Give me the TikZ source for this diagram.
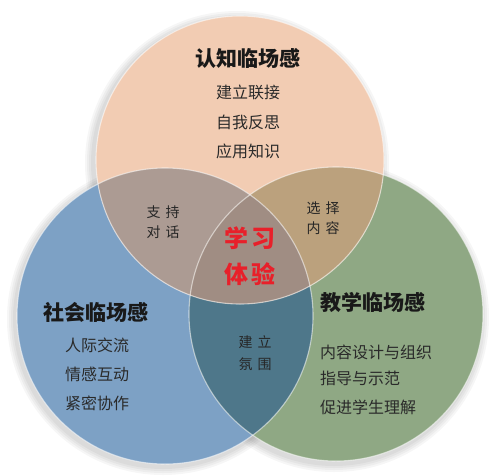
\documentclass[tikz,border=0pt]{standalone}
\usepackage{fontspec}
\setmainfont{Noto Sans CJK SC}
\definecolor{cPeach}{HTML}{F2CCB3}
\definecolor{cBlue}{HTML}{7DA1C5}
\definecolor{cGreen}{HTML}{8FA884}
\definecolor{cPB}{HTML}{AC9B93}
\definecolor{cPG}{HTML}{BBA17D}
\definecolor{cBG}{HTML}{4E778A}
\definecolor{cC}{HTML}{A08D83}
\definecolor{cRed}{HTML}{E8202A}
\definecolor{cTxt}{HTML}{2A2A2A}
\tikzset{
  head/.style={inner sep=0pt, font=\fontsize{21}{24}\selectfont\bfseries, text=black!90},
  item/.style={inner sep=0pt, font=\fontsize{16}{19}\selectfont, text=cTxt},
  pair/.style={inner sep=0pt, font=\fontsize{14}{16}\selectfont, text=black!85},
  core/.style={inner sep=0pt, font=\fontsize{24}{28}\selectfont\bfseries, text=cRed},
  rim/.style={draw=white, draw opacity=0.55, line width=1.1pt},
  shade/.style={fill=black, fill opacity=0.035}
}
\begin{document}
\begin{tikzpicture}[x=1pt,y=-1pt]
\useasboundingbox (0,0) rectangle (498,475);
\fill[white] (0,0) rectangle (498,475);
\coordinate (T) at (240,160);
\coordinate (L) at (165,316);
\coordinate (R) at (336,314);
% soft shadows
\foreach \r in {146,148,150,152}{
  \fill[shade] (237,163) circle[radius=\r pt];
  \fill[shade] (163,319) circle[radius=\r pt+4pt];
  \fill[shade] (334,317) circle[radius=\r pt+3pt];
}
% base circles
\fill[cBlue] (L) circle[radius=148pt];
\fill[cGreen] (R) circle[radius=147pt];
\fill[cPeach] (T) circle[radius=144pt];
% overlaps
\begin{scope}\clip (L) circle[radius=148pt]; \fill[cBG] (R) circle[radius=147pt];\end{scope}
\begin{scope}\clip (T) circle[radius=144pt]; \fill[cPB] (L) circle[radius=148pt];\end{scope}
\begin{scope}\clip (T) circle[radius=144pt]; \fill[cPG] (R) circle[radius=147pt];\end{scope}
\begin{scope}\clip (T) circle[radius=144pt]; \clip (L) circle[radius=148pt]; \fill[cC] (R) circle[radius=147pt];\end{scope}
% rims
\draw[rim] (L) circle[radius=148pt];
\draw[rim] (R) circle[radius=147pt];
\draw[rim] (T) circle[radius=144pt];
% top circle texts
\node[head] (h1) at (248,58) {认知临场感};
\node[item] (a1) at (248,92) {建立联接};
\node[item] (a2) at (248,122) {自我反思};
\node[item] (a3) at (248,151) {应用知识};
% left circle texts
\node[head, anchor=west] (h2) at (43,312) {社会临场感};
\node[item, anchor=west] (b1) at (65,345) {人际交流};
\node[item, anchor=west] (b2) at (65,374) {情感互动};
\node[item, anchor=west] (b3) at (65,403) {紧密协作};
% right circle texts
\node[head, anchor=west] (h3) at (320,302) {教学临场感};
\node[item, anchor=west] (c1) at (320,352) {内容设计与组织};
\node[item, anchor=west] (c2) at (320,378) {指导与示范};
\node[item, anchor=west] (c3) at (320,407) {促进学生理解};
% overlaps texts
\node[pair] (p1) at (163,212) {支\hspace{5pt}持};
\node[pair] (p2) at (163,232) {对\hspace{5pt}话};
\node[pair] (q1) at (323,208) {选\hspace{5pt}择};
\node[pair] (q2) at (323,228) {内\hspace{5pt}容};
\node[pair] (r1) at (255,342) {建\hspace{5pt}立};
\node[pair] (r2) at (255,364) {氛\hspace{5pt}围};
\node[core] (k1) at (250,238) {学\hspace{4pt}习};
\node[core] (k2) at (250,274) {体\hspace{4pt}验};
\end{tikzpicture}
\end{document}
